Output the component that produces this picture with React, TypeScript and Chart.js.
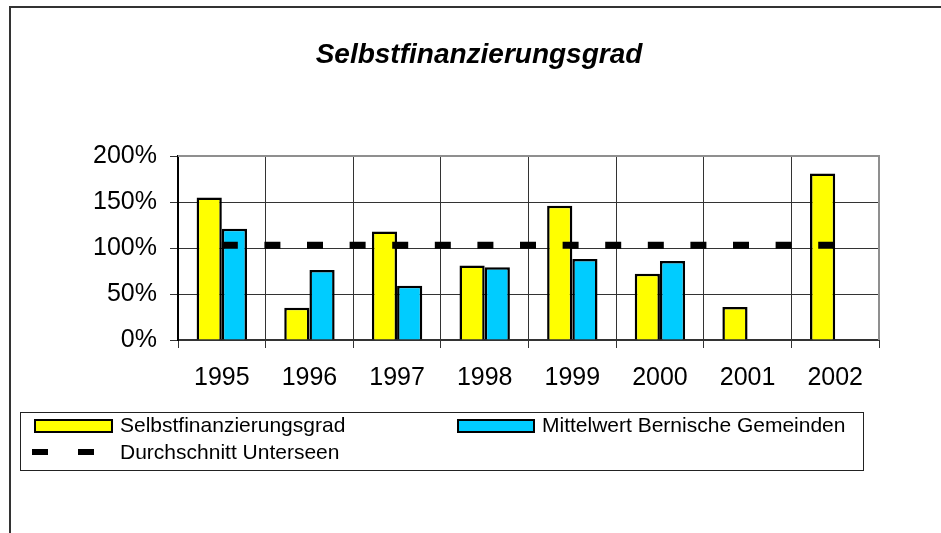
import { useEffect, useRef } from "react";
import { Chart, registerables } from "chart.js";

Chart.register(...registerables);

const categories = ["1995", "1996", "1997", "1998", "1999", "2000", "2001", "2002"];
const selbstfinanzierungsgrad = [155, 35, 118, 81, 146, 72, 36, 181];
const mittelwertBernisch = [121, 76, 59, 79, 88, 86, null, null];
const durchschnittUnterseen = [103, 103, 103, 103, 103, 103, 103, 103];
const yTickValues = [0, 50, 100, 150, 200];
const titleText = "Selbstfinanzierungsgrad";
const seriesLabels = ["Selbstfinanzierungsgrad", "Mittelwert Bernische Gemeinden", "Durchschnitt Unterseen"];

const FONT = "'Liberation Sans', Arial, sans-serif";

const decorPlugin = {
  id: "decor",
  afterDraw(chart: any) {
    const ctx = chart.ctx as CanvasRenderingContext2D;
    const { left, right, top, bottom } = chart.chartArea;
    const ds = chart.data.datasets;
    ctx.save();
    // plot area border (top and right, grey)
    ctx.strokeStyle = "#8f8f8f";
    ctx.lineWidth = 2;
    ctx.beginPath();
    ctx.moveTo(left, top);
    ctx.lineTo(right, top);
    ctx.lineTo(right, bottom);
    ctx.stroke();

    // outer frame
    ctx.strokeStyle = "#333";
    ctx.lineWidth = 2;
    ctx.beginPath();
    ctx.moveTo(10, chart.height);
    ctx.lineTo(10, 7);
    ctx.lineTo(chart.width, 7);
    ctx.stroke();

    // title
    ctx.fillStyle = "#000";
    ctx.font = `italic bold 28px ${FONT}`;
    ctx.textAlign = "center";
    ctx.textBaseline = "alphabetic";
    ctx.fillText(titleText, 479, 63);

    // legend box
    ctx.strokeStyle = "#222";
    ctx.lineWidth = 1;
    ctx.strokeRect(20.5, 412.5, 843, 58);

    ctx.font = `21px ${FONT}`;
    ctx.textAlign = "left";
    ctx.textBaseline = "middle";

    // item 1
    ctx.fillStyle = ds[0].backgroundColor;
    ctx.fillRect(34, 419, 79, 14);
    ctx.strokeStyle = "#000";
    ctx.lineWidth = 2;
    ctx.strokeRect(35, 420, 77, 12);
    ctx.fillStyle = "#000";
    ctx.fillText(ds[0].label, 120, 426);

    // item 2
    ctx.fillStyle = ds[1].backgroundColor;
    ctx.fillRect(457, 419, 78, 14);
    ctx.strokeRect(458, 420, 76, 12);
    ctx.fillStyle = "#000";
    ctx.fillText(ds[1].label, 542, 426);

    // item 3
    ctx.strokeStyle = "#000";
    ctx.lineWidth = 6;
    ctx.setLineDash([16, 30]);
    ctx.beginPath();
    ctx.moveTo(32, 452);
    ctx.lineTo(95, 452);
    ctx.stroke();
    ctx.setLineDash([]);
    ctx.fillText(ds[2].label, 120, 453);
    ctx.restore();
  },
};

export default function App() {
  const ref = useRef<HTMLCanvasElement>(null);

  useEffect(() => {
    if (!ref.current) return;
    const chart = new Chart(ref.current, {
      type: "bar",
      data: {
        labels: categories,
        datasets: [
          {
            type: "bar",
            label: seriesLabels[0],
            data: selbstfinanzierungsgrad,
            backgroundColor: "#FFFF00",
            borderColor: "#000",
            borderWidth: 2.5,
            categoryPercentage: 0.575,
            barPercentage: 1,
            order: 1,
          },
          {
            type: "bar",
            label: seriesLabels[1],
            data: mittelwertBernisch,
            backgroundColor: "#00CCFF",
            borderColor: "#000",
            borderWidth: 2.5,
            categoryPercentage: 0.575,
            barPercentage: 1,
            order: 2,
          },
          {
            type: "line",
            label: seriesLabels[2],
            data: durchschnittUnterseen,
            borderColor: "#000",
            borderWidth: 7,
            borderDash: [16, 26.6],
            borderCapStyle: "butt",
            pointRadius: 0,
            fill: false,
            order: 0,
          } as any,
        ],
      },
      options: {
        responsive: false,
        animation: false,
        devicePixelRatio: 1,
        layout: { padding: { left: 0, right: 62, top: 156, bottom: 0 } },
        plugins: {
          legend: { display: false },
          title: { display: false },
          tooltip: { enabled: false },
        },
        scales: {
          x: {
            offset: true,
            grid: {
              offset: true,
              color: "#333",
              lineWidth: 1,
              drawTicks: true,
              tickLength: 8,
              tickColor: "#333",
            },
            border: { display: true, color: "#333", width: 2 },
            ticks: {
              color: "#000",
              font: { family: FONT, size: 25 },
              padding: 15,
              maxRotation: 0,
            },
            afterFit(scale: any) {
              scale.height = 193;
            },
          },
          y: {
            min: 0,
            max: 200,
            afterBuildTicks(scale: any) {
              scale.ticks = yTickValues.map((v) => ({ value: v }));
            },
            grid: {
              color: "#333",
              lineWidth: 1,
              drawTicks: true,
              tickLength: 8,
              tickColor: "#333",
            },
            border: { display: true, color: "#000", width: 2 },
            ticks: {
              color: "#000",
              font: { family: FONT, size: 25 },
              padding: 13,
              callback: (v: any) => `${v}%`,
            },
            afterFit(scale: any) {
              scale.width = 178;
            },
          },
        },
      },
      plugins: [decorPlugin],
    });
    return () => chart.destroy();
  }, []);

  return (
    <div style={{ position: "fixed", left: 0, top: 0, width: 941, height: 533, background: "#fff" }}>
      <canvas ref={ref} width={941} height={533} style={{ display: "block" }} />
    </div>
  );
}
